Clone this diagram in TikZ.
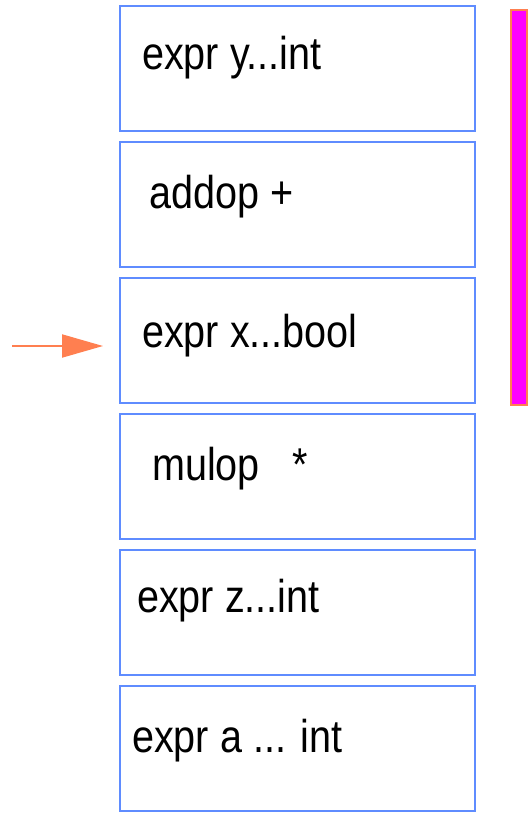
\documentclass[tikz,border=0pt]{standalone}
\usepackage{fontspec}
\setmainfont{Liberation Sans}
\newfontfamily\cellfont[FakeStretch=0.86]{Liberation Sans}
\usetikzlibrary{arrows.meta}
\definecolor{frameblue}{RGB}{95,140,255}
\definecolor{coralline}{RGB}{255,127,80}
\definecolor{barfill}{RGB}{255,0,255}

\begin{document}
\begin{tikzpicture}[x=1pt,y=-1pt,
  cell/.style={draw=frameblue, line width=2.4pt, minimum width=355pt,
    minimum height=125pt, inner sep=0pt, anchor=north west},
  celltext/.style={anchor=base west, inner sep=0pt,
    font=\cellfont\fontsize{46}{50}\selectfont},
  stackbar/.style={draw=coralline, fill=barfill, line width=2pt,
    minimum width=16pt, minimum height=395pt, inner sep=0pt},
  pointer/.style={draw=coralline, line width=2pt,
    -{Triangle[length=41pt,width=23pt]}}]
  \useasboundingbox (0,0) rectangle (529,818);

  % stack cells, top to bottom
  \node[cell] (box1) at (119,5)   {};
  \node[cell] (box2) at (119,141) {};
  \node[cell] (box3) at (119,277) {};
  \node[cell] (box4) at (119,413) {};
  \node[cell] (box5) at (119,549) {};
  \node[cell] (box6) at (119,685) {};

  % cell contents
  \node[celltext] (t1) at (142,70)  {expr y...int};
  \node[celltext] (t2) at (149,208) {addop +};
  \node[celltext] (t3) at (142,347) {expr x...bool};
  \node[celltext] (t4) at (152,480) {mulop\ \ \ *};
  \node[celltext] (t5) at (137,612) {expr z...int};
  \node[celltext] (t6) at (132,752) {expr a ... int};

  % bar beside the upper cells
  \node[stackbar] (bar) at (519,207.5) {};

  % pointer to the current cell
  \coordinate (ptrtail) at (12,346);
  \draw[pointer, shorten >=16pt] (ptrtail) -- (ptrtail -| box3.west);
\end{tikzpicture}
\end{document}
